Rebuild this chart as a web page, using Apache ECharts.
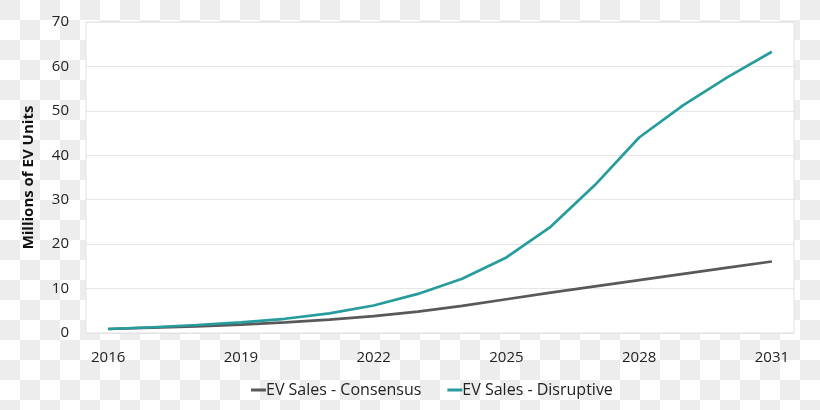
<!DOCTYPE html>
<html>
<head>
<meta charset="utf-8">
<script src="https://cdn.jsdelivr.net/npm/echarts@6/dist/echarts.min.js"></script>
<style>html,body{margin:0;padding:0;}#c{width:820px;height:410px;}</style>
</head>
<body>
<div id="c"></div>
<script>
const years = ['2016','2017','2018','2019','2020','2021','2022','2023','2024','2025','2026','2027','2028','2029','2030','2031'];
const consensus = [0.9, 1.2, 1.5, 1.9, 2.4, 3.0, 3.8, 4.8, 6.1, 7.6, 9.1, 10.5, 11.9, 13.3, 14.7, 16.1];
const disruptive = [0.9, 1.3, 1.8, 2.4, 3.2, 4.4, 6.2, 8.8, 12.2, 17.0, 23.9, 33.3, 44.0, 51.3, 57.6, 63.3];
const seriesNames = ['EV Sales - Consensus', 'EV Sales - Disruptive'];
const yAxisName = 'Millions of EV Units';

// checkerboard backdrop
const pc = document.createElement('canvas');
pc.width = 40; pc.height = 40;
const g = pc.getContext('2d');
g.fillStyle = '#ffffff'; g.fillRect(0,0,40,40);
g.fillStyle = '#ededed'; g.fillRect(0,0,20,20); g.fillRect(20,20,20,20);

const font = '"Open Sans", "Noto Sans", sans-serif';
const chart = echarts.init(document.getElementById('c'), null, {renderer:'canvas'});
chart.setOption({
  backgroundColor: {image: pc, repeat: 'repeat'},
  animation: false,
  textStyle: {fontFamily: font},
  grid: {left: 86, right: 26, top: 22, bottom: 77, show: true, backgroundColor: '#ffffff', borderColor: '#e2e2e2', borderWidth: 1},
  legend: {
    bottom: 7, left: 246,
    itemWidth: 15, itemHeight: 3, itemGap: 26,
    icon: 'rect',
    textStyle: {fontFamily: font, fontSize: 16, color: '#222', padding: [0, 0, 0, -5]},
    data: seriesNames
  },
  xAxis: {
    type: 'category', data: years, boundaryGap: true,
    axisLine: {show: true, lineStyle: {color: '#e2e2e2'}},
    axisTick: {show: false},
    axisLabel: {interval: 2, fontSize: 15, color: '#222', margin: 17, fontFamily: font}
  },
  yAxis: {
    type: 'value', min: 0, max: 70, interval: 10,
    name: yAxisName, nameLocation: 'middle', nameGap: 50,
    nameTextStyle: {fontSize: 15, fontWeight: 'bold', color: '#111', fontFamily: font},
    axisLine: {show: false}, axisTick: {show: false},
    axisLabel: {fontSize: 15, color: '#222', margin: 17, fontFamily: font},
    splitLine: {lineStyle: {color: '#e6e6e6', width: 1}}
  },
  series: [
    {name: seriesNames[0], type: 'line', data: consensus, showSymbol: false, symbol: 'none',
     lineStyle: {color: '#595959', width: 2.7}, itemStyle: {color: '#595959'}},
    {name: seriesNames[1], type: 'line', data: disruptive, showSymbol: false, symbol: 'none',
     lineStyle: {color: '#279c9c', width: 2.7}, itemStyle: {color: '#279c9c'}}
  ]
});
</script>
</body>
</html>
